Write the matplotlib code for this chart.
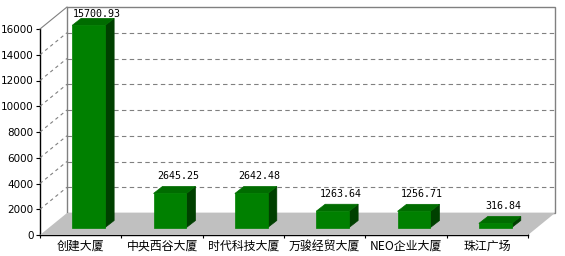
import matplotlib
matplotlib.use("Agg")
import matplotlib.pyplot as plt
import numpy as np
from matplotlib.patches import Polygon
from matplotlib.lines import Line2D
from matplotlib.transforms import IdentityTransform

plt.rcParams['font.family'] = ['Noto Sans CJK SC', 'DejaVu Sans']

categories = ['创建大厦', '中央西谷大厦', '时代科技大厦', '万骏经贸大厦', 'NEO企业大厦', '珠江广场']
values = [15700.93, 2645.25, 2642.48, 1263.64, 1256.71, 316.84]
value_labels = ['15700.93', '2645.25', '2642.48', '1263.64', '1256.71', '316.84']
y_ticks = [0, 2000, 4000, 6000, 8000, 10000, 12000, 14000, 16000]
y_max = 16000

W, H = 565, 256
fig = plt.figure(figsize=(W / 100, H / 100), dpi=100)
fig.patch.set_facecolor('white')

# front plane of the pseudo-3D box
left_px, right_px, bottom_px, top_px = 40, 528, 235, 29
ax = fig.add_axes([left_px / W, (H - bottom_px) / H,
                   (right_px - left_px) / W, (bottom_px - top_px) / H])
ax.set_xlim(-0.5, len(categories) - 0.5)
ax.set_ylim(0, y_max)
ax.patch.set_visible(False)

# depth of the box and of the bars, in pixels
DX, DY = 27, 22          # full depth of the floor / back wall
FX, FY = 8, 7.5          # bar front face offset
BX, BY = 9, 7            # bar depth
bar_w = 0.405

ident = IdentityTransform()


def P(x, y, ox=0.0, oy=0.0):
    px, py = ax.transData.transform((x, y))
    return (px + ox, py + oy)


x0, x1 = -0.5, len(categories) - 0.5
grid_c = '#808080'

# back wall
wall = Polygon([P(x0, 0, DX, DY), P(x1, 0, DX, DY), P(x1, y_max, DX, DY), P(x0, y_max, DX, DY)],
               closed=True, facecolor='white', edgecolor=grid_c, lw=1.0,
               transform=ident, zorder=0.5)
fig.add_artist(wall)

# dashed grid on the back wall and on the left side
for v in y_ticks[1:-1]:
    a, b = P(x0, v, DX, DY), P(x1, v, DX, DY)
    fig.add_artist(Line2D([a[0], b[0]], [a[1], b[1]], color=grid_c, lw=0.8,
                          ls=(0, (4, 3)), transform=ident, zorder=0.6))
    c, d = P(x0, v), P(x0, v, DX, DY)
    fig.add_artist(Line2D([c[0], d[0]], [c[1], d[1]], color=grid_c, lw=0.8,
                          ls=(0, (3, 3)), transform=ident, zorder=0.6))
c, d = P(x0, y_max), P(x0, y_max, DX, DY)
fig.add_artist(Line2D([c[0], d[0]], [c[1], d[1]], color=grid_c, lw=0.8,
                      transform=ident, zorder=0.6))

# floor
floor = Polygon([P(x0, 0), P(x1, 0), P(x1, 0, DX, DY), P(x0, 0, DX, DY)],
                closed=True, facecolor='#C0C0C0', edgecolor='none',
                transform=ident, zorder=0.7)
fig.add_artist(floor)

# axes
for s in ['top', 'right']:
    ax.spines[s].set_visible(False)
for s in ['left', 'bottom']:
    ax.spines[s].set_color('black')
    ax.spines[s].set_linewidth(1.0)
ax.set_yticks(y_ticks)
ax.set_yticklabels([str(t) for t in y_ticks], family='DejaVu Sans', fontsize=7.5)
ax.tick_params(axis='y', length=3, width=0.8, pad=1.5, colors='black')
ax.set_xticks(np.arange(-0.5, len(categories), 1.0))
ax.set_xticklabels([])
ax.tick_params(axis='x', which='major', direction='inout', length=5, width=0.8)
ax.set_xticks(np.arange(len(categories)), minor=True)
ax.set_xticklabels(categories, minor=True, fontsize=8.6)
ax.tick_params(axis='x', which='minor', length=0, pad=3.5)

# bars
front_c, top_c, side_c = '#008000', '#006C00', '#004000'
text_top = P(x0, y_max, DX, DY)[1] - 10
for i, v in enumerate(values):
    l, r = i - bar_w / 2, i + bar_w / 2
    front = [P(l, 0, FX, FY), P(r, 0, FX, FY), P(r, v, FX, FY), P(l, v, FX, FY)]
    top = [P(l, v, FX, FY), P(r, v, FX, FY), P(r, v, FX + BX, FY + BY), P(l, v, FX + BX, FY + BY)]
    side = [P(r, 0, FX, FY), P(r, 0, FX + BX, FY + BY), P(r, v, FX + BX, FY + BY), P(r, v, FX, FY)]
    for pts, col in [(side, side_c), (top, top_c), (front, front_c)]:
        fig.add_artist(Polygon(pts, closed=True, facecolor=col, edgecolor=col,
                               lw=0.5, transform=ident, zorder=3))
    tx, ty = P(i, v, FX + 8, FY + BY + 7)
    ty = min(ty, text_top)
    fig.text(tx / W, ty / H, value_labels[i], ha='center', va='baseline',
             family='DejaVu Sans Mono', fontsize=7.2, color='black', zorder=4)

fig.savefig('out.png', dpi=100)
